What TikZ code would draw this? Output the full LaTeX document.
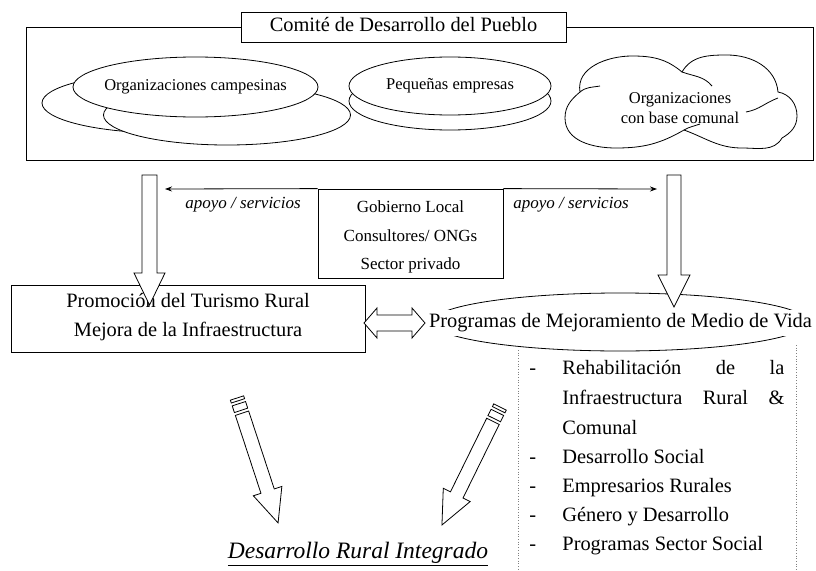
\documentclass[tikz,border=0pt]{standalone}
\usepackage{fontspec}
\setmainfont{Liberation Serif}
\usetikzlibrary{shapes.geometric,arrows.meta}
\begin{document}
\begin{tikzpicture}[x=1pt,y=-1pt, line width=0.8pt,
  every node/.style={inner sep=0pt},
  big/.style={font=\fontsize{20.4}{24}\selectfont, text height=14pt, text depth=4.4pt},
  mid/.style={font=\fontsize{17}{20}\selectfont},
  small/.style={font=\fontsize{16.5}{19.5}\selectfont},
  box/.style={draw, rectangle, fill=white},
  oval/.style={draw, ellipse, fill=white},
  blockarrow/.style={draw, fill=white, line width=0.8pt, line join=miter},
  lineitem/.style={big, anchor=west},
  dashitem/.style={big, anchor=west}]
\useasboundingbox (0,0) rectangle (816,570);

% outer frame and title
\node[draw, minimum width=787pt, minimum height=133pt] (outer) at (419.5,93.5) {};
\node[box, minimum width=325pt, minimum height=30pt, big] (title) at (403.5,27) {Comité de Desarrollo del Pueblo};

% campesinas ellipses
\node[oval, minimum width=246pt, minimum height=60pt] (c3) at (165,103) {};
\node[oval, minimum width=247pt, minimum height=60pt] (c2) at (227,115) {};
\node[oval, minimum width=245pt, minimum height=60pt] (c1) at (195.5,87) {};
\node[small] at (c1) {Organizaciones campesinas};

% pequenas ellipses
\node[oval, minimum width=202pt, minimum height=58pt] (p2) at (450,101) {};
\node[oval, minimum width=202pt, minimum height=58pt] (p1) at (450,86) {};
\node[small] at (p1) {Pequeñas empresas};

% cloud
\draw (580,92) to[out=100,in=180] (632,56) to[out=0,in=140] (682,72)
      to[out=60,in=180] (727,55) to[out=0,in=95] (778,92)
      to[out=-10,in=90] (797,116) to[out=-90,in=30] (782,138)
      to[out=-120,in=0] (742,148) to[out=180,in=-20] (684,130)
      to[out=-150,in=0] (616,148) to[out=180,in=-90] (565,118)
      to[out=90,in=-140] cycle;
\draw (580,92) to[out=40,in=190] (600,86);
\draw (682,72) to[out=-20,in=130] (712,86);
\draw (778,98) to[out=200,in=10] (746,112);
\draw (684,130) to[out=30,in=-160] (700,124);
\node[small, align=center] at (680,108) {Organizaciones\\con base comunal};

% center box
\node[box, minimum width=185pt, minimum height=89pt] (gov) at (410.5,233.5) {};
\node[mid] at (410.5,207) {Gobierno Local};
\node[mid] at (410.5,236) {Consultores/ ONGs};
\node[mid] at (410.5,265) {Sector privado};
\coordinate (la) at (165,189);
\coordinate (ra) at (657,189);
\draw[-{Stealth[length=7pt,width=5pt]}] (gov.north west) -- (la);
\draw[-{Stealth[length=7pt,width=5pt]}] (gov.north east) -- (ra);
\node[mid, font=\fontsize{17}{20}\selectfont\itshape] at (243,205) {apoyo / servicios};
\node[mid, font=\fontsize{17}{20}\selectfont\itshape] at (571,205) {apoyo / servicios};

% left box
\node[box, minimum width=354pt, minimum height=67pt] (promo) at (188,318.5) {};
\node[big] at (188,303) {Promoción del Turismo Rural};
\node[big] at (188,332) {Mejora de la Infraestructura};

% programs ellipse
\node[draw, ellipse, minimum width=376pt, minimum height=58pt] (prog) at (620,322) {};
\node[big, fill=white, minimum height=26pt, inner xsep=3pt] (progt) at (620.5,323) {Programas de Mejoramiento de Medio de Vida};

% down block arrows
\draw[blockarrow] (142,175) -- (157,175) -- (157,273) -- (165,273) -- (149.5,305) -- (134,273) -- (142,273) -- cycle;
\draw[blockarrow] (667,175) -- (681,175) -- (681,275) -- (690,275) -- (674,307) -- (658,275) -- (667,275) -- cycle;

% double arrow
\draw[blockarrow] (364,323) -- (377,308) -- (377,315) -- (412,315) -- (412,308) -- (425,323) -- (412,338) -- (412,331) -- (377,331) -- (377,338) -- cycle;

% dotted frame
\draw[dotted, gray, line width=0.7pt] (518,350) -- (518,570);
\draw[dotted, gray, line width=0.7pt] (796,345) -- (796,570);

% list
\node[dashitem] at (529,370) {-};
\node[lineitem] at (562,370) {\hbox to 222pt{Rehabilitación\hfill de\hfill la}};
\node[lineitem] at (562,400) {\hbox to 222pt{Infraestructura\hfill Rural\hfill \&}};
\node[lineitem] at (562,430) {Comunal};
\node[dashitem] at (529,459) {-};
\node[lineitem] at (562,459) {Desarrollo Social};
\node[dashitem] at (529,488) {-};
\node[lineitem] at (562,488) {Empresarios Rurales};
\node[dashitem] at (529,517) {-};
\node[lineitem] at (562,517) {Género y Desarrollo};
\node[dashitem] at (529,546) {-};
\node[lineitem] at (562,546) {Programas Sector Social};

% striped arrows
\begin{scope}[shift={(237,398)}, rotate=-71.8]
  \draw[blockarrow] (0,-7) rectangle (3,7);
  \draw[blockarrow] (6,-7) rectangle (13,7);
  \draw[blockarrow] (16,-7) -- (98,-7) -- (98,-15) -- (131.5,0) -- (98,15) -- (98,7) -- (16,7) -- cycle;
\end{scope}
\begin{scope}[shift={(500,407)}, rotate=-116.2]
  \draw[blockarrow] (0,-7) rectangle (3,7);
  \draw[blockarrow] (6,-7) rectangle (13,7);
  \draw[blockarrow] (16,-7) -- (98,-7) -- (98,-15) -- (131.5,0) -- (98,15) -- (98,7) -- (16,7) -- cycle;
\end{scope}

% bottom title
\node[font=\fontsize{23.5}{28}\selectfont\itshape] (dri) at (358,554) {\underline{Desarrollo Rural Integrado}};
\end{tikzpicture}
\end{document}
